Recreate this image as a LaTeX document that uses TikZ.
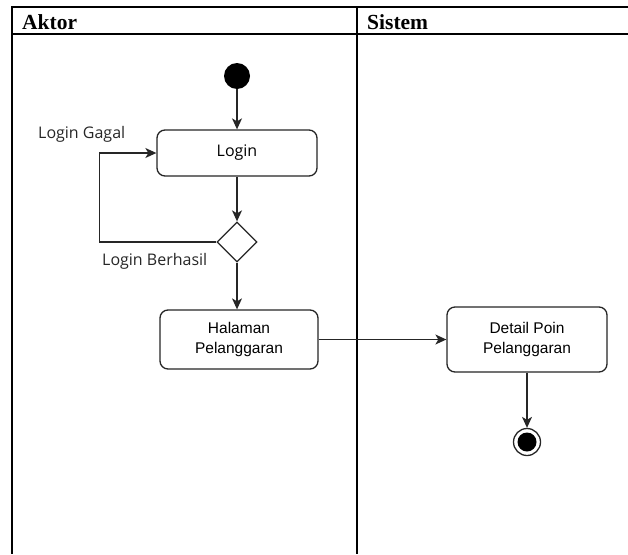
\documentclass[tikz,border=0pt]{standalone}
\usepackage{fontspec}
\setmainfont{Liberation Serif}
\newfontfamily\lblfont{Open Sans}
\newfontfamily\arialfont{Liberation Sans}
\usetikzlibrary{shapes.geometric,arrows.meta}
\begin{document}
\begin{tikzpicture}[x=1pt,y=-1pt,
  lane/.style={line width=1.1pt,draw=black},
  act/.style={draw=black!85,line width=1.3pt,rounded corners=8pt,fill=white,align=center,
    inner sep=0pt,font=\arialfont\fontsize{15.5}{20}\selectfont},
  flow/.style={draw=black!85,line width=1.3pt,-{Stealth[length=11pt,width=10pt,inset=3pt]}},
  lbl/.style={font=\lblfont\fontsize{16}{19}\selectfont,text=black!85,inner sep=0pt,anchor=west},
  hdr/.style={font=\bfseries\fontsize{21.5}{24}\selectfont,inner sep=0pt,anchor=base west}
]
\useasboundingbox (0,0) rectangle (628,554);
% swimlane table
\draw[lane] (628,7) -- (12,7) -- (12,554);
\draw[lane] (12,34) -- (628,34);
\draw[lane] (357,7) -- (357,554);
\node[hdr] (haktor) at (22,29) {Aktor};
\node[hdr] (hsistem) at (367,29) {Sistem};
% nodes
\node[circle,fill=black,minimum size=26pt,inner sep=0pt] (start) at (237,76) {};
\node[act,minimum width=160pt,minimum height=46pt,font=\lblfont\fontsize{16}{19}\selectfont] (login) at (237,153) {Login};
\node[diamond,draw=black!85,line width=1.3pt,fill=white,minimum width=40pt,minimum height=40pt,inner sep=0pt,aspect=1] (dec) at (237,242) {};
\node[act,minimum width=158pt,minimum height=59pt] (hal) at (239,339.5) {Halaman\\Pelanggaran};
\node[act,minimum width=160pt,minimum height=65pt] (det) at (527,339.5) {Detail Poin\\Pelanggaran};
\node[circle,draw=black!85,line width=1.3pt,fill=white,minimum size=27pt,inner sep=0pt] (end) at (527,442) {};
\node[circle,fill=black,minimum size=19pt,inner sep=0pt] (endin) at (end.center) {};
% labels
\node[lbl] (lgagal) at (38,134) {Login Gagal};
\node[lbl] (lberhasil) at (102,261) {Login Berhasil};
% connectors
\draw[flow] (start) -- (login);
\draw[flow] (login) -- (dec);
\draw[flow] (dec.west) -- ++(-117,0) |- (login.west);
\draw[flow] (dec.south) -- (dec.south |- hal.north);
\draw[flow] (hal.east) -- (det.west);
\draw[flow] (det.south) -- (end.north);
\end{tikzpicture}
\end{document}
